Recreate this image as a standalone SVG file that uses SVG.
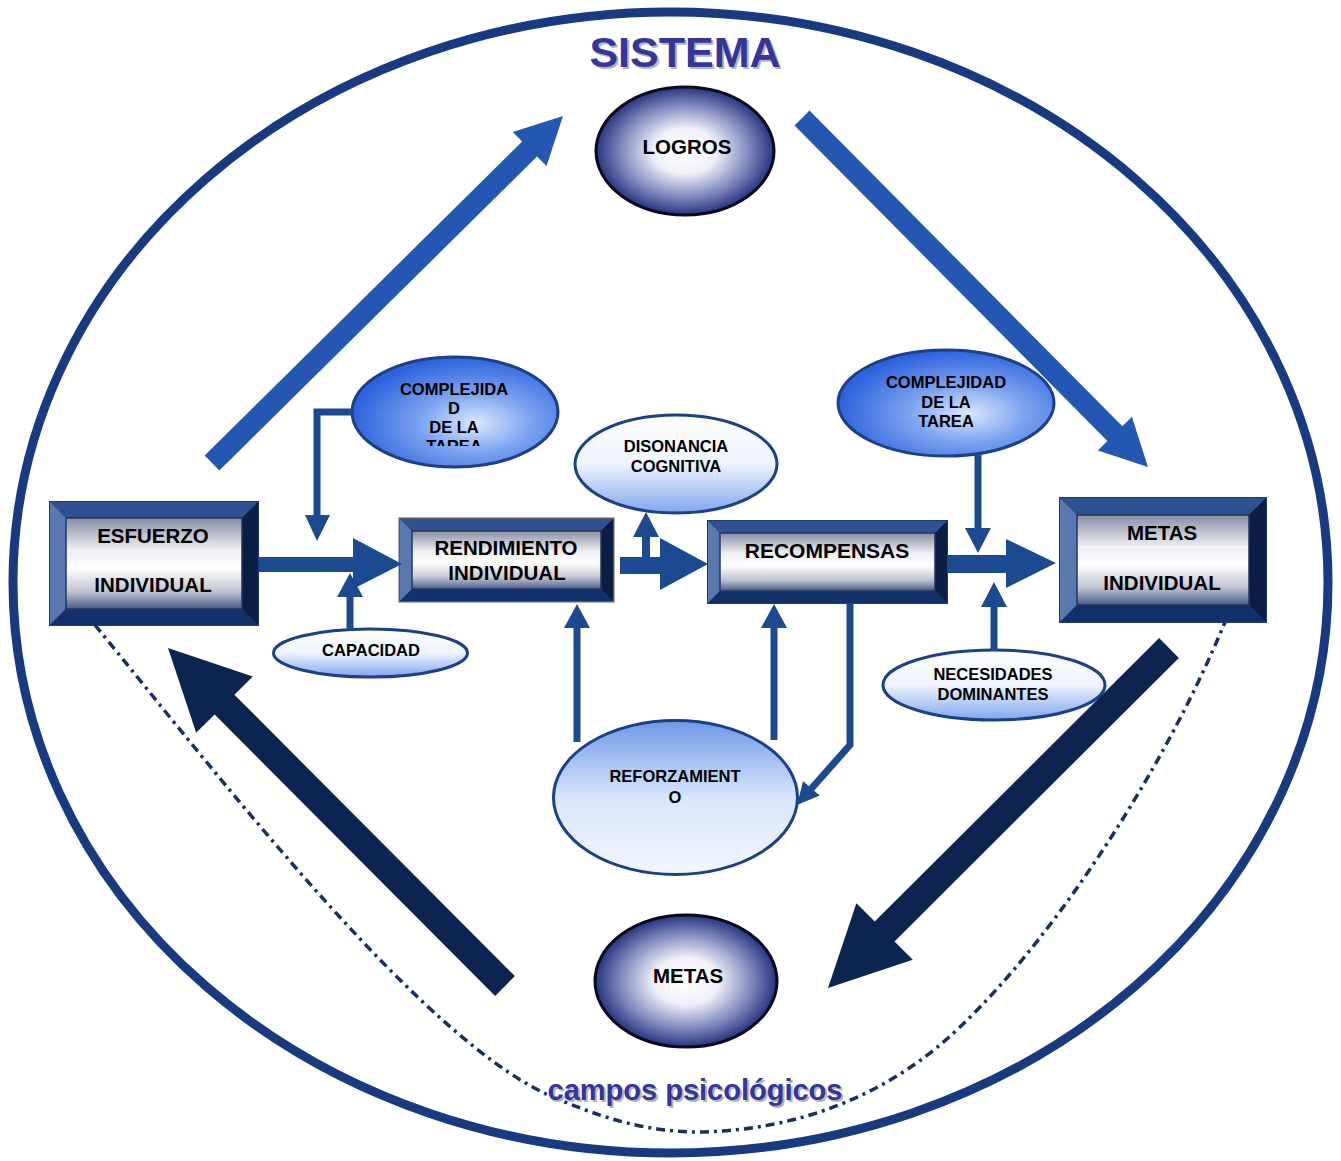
<svg xmlns="http://www.w3.org/2000/svg" width="1341" height="1161" viewBox="0 0 1341 1161">
  <defs>
    <style>
      .lbl { font-family: "Liberation Sans", Arial, sans-serif; font-weight: bold; fill: #000; text-anchor: middle; }
      .box-t { font-size: 20.5px; }
      .ell-t { font-size: 16.5px; }
      .orb-t { font-size: 20.5px; }
      .title { font-family: "Liberation Sans", Arial, sans-serif; font-weight: bold; text-anchor: middle; fill: #35359a; }
      .shadow { fill: #b4b4bc; }
      .rim { fill: #1d4386; stroke: #1a3a7a; stroke-width: 2; }
      .rim-grey { fill: #1d4386; stroke: #5a5d66; stroke-width: 3; }
      .bt { fill: #2f5192; }
      .bl { fill: #5a78b0; }
      .br { fill: #0b1d45; }
      .bb { fill: #12306a; }
      .face { fill: url(#faceGrad); stroke: #26345e; stroke-width: 1.5; }
      .orb { fill: url(#orbGrad); stroke: #0a0a1a; stroke-width: 3; }
      .blue-ell { fill: url(#blueGrad); stroke: #1c3f88; stroke-width: 3; }
      .light-ell { fill: url(#lightGrad); stroke: #1c3f88; stroke-width: 3; }
      .wire { fill: none; stroke: #1c4a90; stroke-width: 7; }
      .wire-fill { fill: #1c4a90; }
      .big-blue { fill: #2457b2; }
      .big-dark { fill: #0d2350; }
    </style>
    <linearGradient id="faceGrad" x1="0" y1="0" x2="0" y2="1">
      <stop offset="0" stop-color="#898da3"/>
      <stop offset="0.35" stop-color="#eeeef3"/>
      <stop offset="0.55" stop-color="#ffffff"/>
      <stop offset="0.8" stop-color="#c3c6d2"/>
      <stop offset="1" stop-color="#4a5a8a"/>
    </linearGradient>
    <radialGradient id="orbGrad" cx="0.5" cy="0.5" r="0.5">
      <stop offset="0" stop-color="#ffffff"/>
      <stop offset="0.35" stop-color="#f0f1f8"/>
      <stop offset="0.72" stop-color="#8088bd"/>
      <stop offset="1" stop-color="#27357f"/>
    </radialGradient>
    <radialGradient id="blueGrad" cx="0.6" cy="0.6" r="0.6">
      <stop offset="0" stop-color="#dbe7fc"/>
      <stop offset="0.45" stop-color="#7ca3f0"/>
      <stop offset="1" stop-color="#2d63dc"/>
    </radialGradient>
    <linearGradient id="lightGrad" x1="0" y1="0" x2="0" y2="1">
      <stop offset="0" stop-color="#ffffff"/>
      <stop offset="0.5" stop-color="#eef3fd"/>
      <stop offset="1" stop-color="#7fa6ee"/>
    </linearGradient>
    <linearGradient id="reinfGrad" x1="0" y1="0" x2="0" y2="1">
      <stop offset="0" stop-color="#6e98e8"/>
      <stop offset="0.5" stop-color="#d8e5fa"/>
      <stop offset="1" stop-color="#f2f6fe"/>
    </linearGradient>
    <clipPath id="clipTask">
      <rect x="340" y="350" width="230" height="96"/>
    </clipPath>
  </defs>

  <rect width="1341" height="1161" fill="#ffffff"/>

  <!-- system boundary -->
  <ellipse cx="670.5" cy="582.5" rx="657.5" ry="570.5" fill="none" stroke="#183a80" stroke-width="9"/>

  <!-- psychological field boundary -->
  <path d="M95,625 C230,790 430,1050 560,1100 C620,1125 660,1132 700,1132 C800,1130 880,1095 940,1045 C1040,960 1160,780 1225,622"
        fill="none" stroke="#1a2e66" stroke-width="3.5" stroke-dasharray="9 5 3 5"/>

  <text class="title shadow" x="687" y="69" font-size="43">SISTEMA</text>
  <text class="title" x="685" y="67" font-size="43">SISTEMA</text>

  <!-- nodes -->
  <g id="logros">
    <ellipse class="orb" cx="685" cy="151" rx="89" ry="64"/>
    <text class="lbl orb-t" x="687" y="154">LOGROS</text>
  </g>

  <g id="metas">
    <ellipse class="orb" cx="686" cy="981" rx="91" ry="66"/>
    <text class="lbl orb-t" x="688" y="983">METAS</text>
  </g>

  <g id="esfuerzo-individual">
    <rect class="rim" x="50" y="502" width="208" height="123"/>
    <polygon class="bt" points="50,502 258,502 242,518 66,518"/>
    <polygon class="bl" points="50,502 66,518 66,609 50,625"/>
    <polygon class="br" points="258,502 258,625 242,609 242,518"/>
    <polygon class="bb" points="50,625 66,609 242,609 258,625"/>
    <rect class="face" x="66" y="518" width="176" height="91"/>
    <text class="lbl box-t" x="153" y="543">ESFUERZO</text>
    <text class="lbl box-t" x="153" y="592">INDIVIDUAL</text>
  </g>

  <g id="rendimiento-individual">
    <rect class="rim-grey" x="400" y="519" width="213" height="82"/>
    <polygon class="bt" points="400,519 613,519 601,531 412,531"/>
    <polygon class="bl" points="400,519 412,531 412,589 400,601"/>
    <polygon class="br" points="613,519 613,601 601,589 601,531"/>
    <polygon class="bb" points="400,601 412,589 601,589 613,601"/>
    <rect class="face" x="412" y="531" width="189" height="58"/>
    <text class="lbl box-t" x="506" y="555">RENDIMIENTO</text>
    <text class="lbl box-t" x="507" y="580">INDIVIDUAL</text>
  </g>

  <g id="recompensas">
    <rect class="rim" x="708" y="521" width="239" height="82"/>
    <polygon class="bt" points="708,521 947,521 935,533 720,533"/>
    <polygon class="bl" points="708,521 720,533 720,591 708,603"/>
    <polygon class="br" points="947,521 947,603 935,591 935,533"/>
    <polygon class="bb" points="708,603 720,591 935,591 947,603"/>
    <rect class="face" x="720" y="533" width="215" height="58"/>
    <text class="lbl" x="827" y="558" font-size="21">RECOMPENSAS</text>
  </g>

  <g id="metas-individual">
    <rect class="rim" x="1060" y="498" width="206" height="124"/>
    <polygon class="bt" points="1060,498 1266,498 1249,515 1077,515"/>
    <polygon class="bl" points="1060,498 1077,515 1077,605 1060,622"/>
    <polygon class="br" points="1266,498 1266,622 1249,605 1249,515"/>
    <polygon class="bb" points="1060,622 1077,605 1249,605 1266,622"/>
    <rect class="face" x="1077" y="515" width="172" height="90"/>
    <text class="lbl box-t" x="1162" y="540">METAS</text>
    <text class="lbl box-t" x="1162" y="590">INDIVIDUAL</text>
  </g>

  <g id="complejidad-rendimiento">
    <ellipse class="blue-ell" cx="455" cy="412" rx="103" ry="55"/>
    <g clip-path="url(#clipTask)">
      <text class="lbl ell-t" x="454" y="395">COMPLEJIDA</text>
      <text class="lbl ell-t" x="454" y="414">D</text>
      <text class="lbl ell-t" x="454" y="433">DE LA</text>
      <text class="lbl ell-t" x="454" y="452">TAREA</text>
    </g>
  </g>

  <g id="complejidad-metas">
    <ellipse class="blue-ell" cx="946" cy="403" rx="108" ry="53"/>
    <text class="lbl ell-t" x="946" y="388">COMPLEJIDAD</text>
    <text class="lbl ell-t" x="946" y="408">DE LA</text>
    <text class="lbl ell-t" x="946" y="427">TAREA</text>
  </g>

  <g id="disonancia-cognitiva">
    <ellipse class="light-ell" cx="676" cy="464" rx="101" ry="49"/>
    <text class="lbl ell-t" x="676" y="452">DISONANCIA</text>
    <text class="lbl ell-t" x="676" y="472">COGNITIVA</text>
  </g>

  <g id="capacidad">
    <ellipse class="light-ell" cx="370.5" cy="653" rx="97" ry="24"/>
    <text class="lbl ell-t" x="371" y="656">CAPACIDAD</text>
  </g>

  <g id="necesidades-dominantes">
    <ellipse class="light-ell" cx="994" cy="685" rx="111" ry="35"/>
    <text class="lbl ell-t" x="993" y="680">NECESIDADES</text>
    <text class="lbl ell-t" x="993" y="700">DOMINANTES</text>
  </g>

  <g id="reforzamiento">
    <ellipse cx="675.5" cy="797.5" rx="122" ry="77" fill="url(#reinfGrad)" stroke="#1c3f88" stroke-width="3"/>
    <text class="lbl ell-t" x="675" y="782">REFORZAMIENT</text>
    <text class="lbl ell-t" x="675" y="803">O</text>
  </g>

  <!-- connectors -->
  <g id="connectors">
    <!-- main flow block arrows -->
    <polygon class="wire-fill" points="259,557 353,557 353,538 402,564 353,589 353,572 259,572"/>
    <polygon class="wire-fill" points="620,557 660,557 660,538 708,564 660,590 660,574 620,574"/>
    <polygon class="wire-fill" points="642,557 642,537 633,537 646,512 659,537 650,537 650,557"/>
    <polygon class="wire-fill" points="947,555 1006,555 1006,539 1056,563 1006,588 1006,573 947,573"/>

    <!-- task complexity into performance -->
    <path class="wire" d="M353,412 H317 V516"/>
    <polygon class="wire-fill" points="305,515 330,515 317,541"/>

    <!-- ability into performance -->
    <path class="wire" d="M350,630 V596"/>
    <polygon class="wire-fill" points="337,597 363,597 350,573"/>

    <!-- task complexity into goals -->
    <path class="wire" d="M978,454 V529"/>
    <polygon class="wire-fill" points="965,528 991,528 978,553"/>

    <!-- dominant needs into goals -->
    <path class="wire" d="M994,651 V606"/>
    <polygon class="wire-fill" points="981,607 1007,607 994,582"/>

    <!-- reinforcement loops -->
    <path class="wire" d="M577,742 V627" stroke-width="8"/>
    <polygon class="wire-fill" points="564,628 590,628 577,604"/>
    <path class="wire" d="M774,740 V627" stroke-width="8"/>
    <polygon class="wire-fill" points="761,628 787,628 774,604"/>
    <path class="wire" d="M850,603 V745 L811,789"/>
    <polygon class="wire-fill" points="819.7,795.6 803.1,781.2 797,805"/>

    <!-- outer cycle -->
    <polygon class="big-blue" points="204.6,455.5 522.2,141.5 512.7,131.9 563,116 546.5,166.1 537,156.5 219.4,470.5"/>
    <polygon class="big-blue" points="809.5,110.6 1122.4,426.2 1131.9,416.7 1148,467 1097.9,450.5 1107.4,441 794.5,125.4"/>
    <polygon class="big-dark" points="1159.1,638.1 874.7,921.6 856.4,903.2 828,988 912.8,959.8 894.5,941.4 1178.9,657.9"/>
    <polygon class="big-dark" points="514.9,976.1 234.4,694.7 252.8,676.4 168,648 196.2,732.8 214.6,714.5 495.1,995.9"/>
  </g>

  <text class="title shadow" x="697" y="1102" font-size="29">campos psicológicos</text>
  <text class="title" x="695" y="1100" font-size="29">campos psicológicos</text>
</svg>
